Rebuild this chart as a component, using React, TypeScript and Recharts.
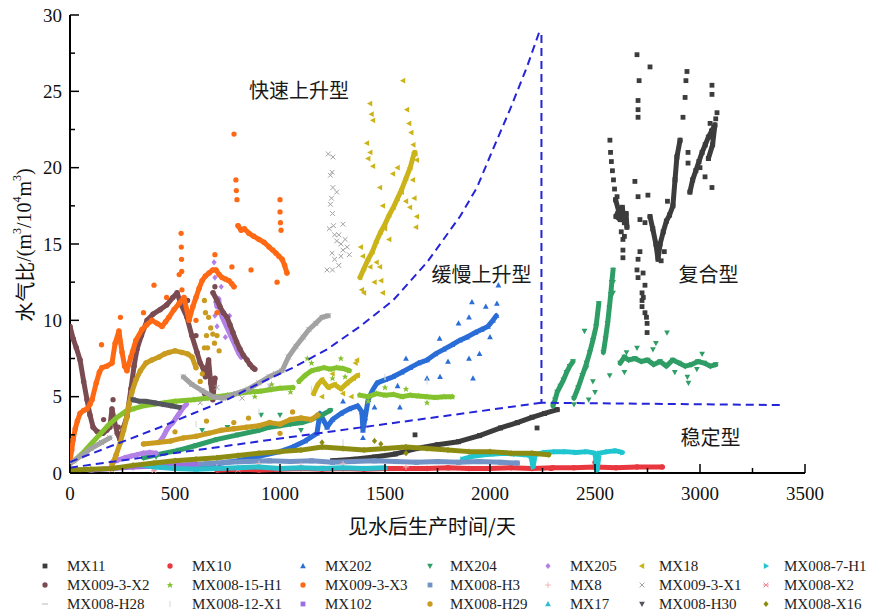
import React from "react";
import { ScatterChart, Scatter, XAxis, YAxis, ReferenceDot } from "recharts";

type P = [number, number];

// ---- data (x: days after water breakthrough, y: water-gas ratio) ----
const xTicks = [0, 250, 500, 750, 1000, 1250, 1500, 1750, 2000, 2250, 2500, 2750, 3000, 3250, 3500];
const yTicks = [0, 2.5, 5, 7.5, 10, 12.5, 15, 17.5, 20, 22.5, 25, 27.5, 30];

const mx11Trace: P[] = [[1250,0.8],[1350,0.9],[1450,1.05],[1550,1.25],[1650,1.6],[1750,1.85],[1850,2.05],[1950,2.45],[2050,2.95],[2130,3.3],[2200,3.65],[2260,3.9],[2320,4.15]];
const mx11TraceB: P[] = [[2598,17.9],[2612,17.2],[2600,16.8],[2620,16.6],[2630,17.4],[2640,16.4],[2648,17.0],[2652,16.1]];
const mx11TraceC: P[] = [[2762,16.8],[2775,16.0],[2790,15.0],[2800,14.0],[2810,15.0],[2825,15.8],[2840,16.5],[2855,16.9],[2871,17.5],[2881,19.2],[2890,20.7],[2905,21.8]];
const mx11TraceD: P[] = [[2952,18.4],[2965,19.2],[2980,19.8],[2995,20.4],[3010,21.0],[3025,21.5],[3040,22.0],[3055,22.4],[3071,22.8],[3060,21.5],[3040,20.6]];
const mx11Pts: P[] = [[1643,2.5],[2224,2.95],
  [2571,21.8],[2574,21.0],[2578,20.4],[2583,19.8],[2588,19.2],[2593,18.6],[2605,18.1],[2633,15.3],[2633,14.6],[2633,14.1],[2625,15.8],[2640,15.5],
  [2700,27.4],[2762,26.6],[2710,25.7],[2705,24.4],[2705,23.8],[2705,23.3],[2690,19.1],[2705,18.1],[2752,18.2],[2714,16.6],[2738,16.4],[2714,14.5],[2705,14.0],[2700,13.3],[2705,12.8],[2729,13.1],[2738,12.3],[2724,11.8],[2724,11.3],[2724,10.9],[2738,10.5],[2748,9.8],[2748,9.2],[2745,10.2],[2730,11.5],
  [2919,23.3],[2929,24.6],[2933,25.7],[2938,26.3],[2943,21.0],[2943,20.3],[2845,17.8],[2830,14.5],[2815,13.9],
  [3057,25.4],[3057,24.8],[3081,23.6],[3057,18.7],[3024,19.4],[3000,20.0],[3075,23.2],[3048,22.9]];

const mx10Trace: P[] = [[700,0.2],[800,0.25],[900,0.2],[1000,0.25],[1100,0.3],[1200,0.25],[1300,0.3],[1400,0.25],[1500,0.3],[1600,0.3],[1700,0.3],[1800,0.35],[1900,0.3],[2000,0.3],[2100,0.35],[2200,0.3],[2300,0.35],[2400,0.35],[2500,0.4],[2600,0.35],[2700,0.4],[2820,0.4]];
const mx10Pts: P[] = [[2500,0.7],[2290,0.3]];

const mx202Trace: P[] = [[500,0.3],[600,0.45],[700,0.6],[800,0.8],[900,1.1],[1000,1.4],[1060,1.7],[1120,2.1],[1176,2.6],[1190,3.9],[1210,3.4],[1224,3.0],[1250,3.5],[1290,3.9],[1330,4.2],[1370,4.4],[1390,4.0],[1395,2.8],[1405,3.6],[1420,4.8],[1440,5.4],[1462,5.9],[1500,6.1],[1538,6.3],[1580,6.6],[1620,6.9],[1660,7.2],[1700,7.4],[1740,7.8],[1780,8.1],[1820,8.4],[1857,8.7],[1890,8.9],[1930,9.2],[1960,9.4],[1990,9.6],[2014,10.0],[2030,10.3]];
const mx202Pts: P[] = [[1914,11.2],[2033,11.1],[2040,12.3],[1700,6.2],[1800,7.3],[1900,7.5],[1950,7.8],[1600,7.5],[1850,9.8],[1980,10.9],[1450,4.3],[1395,2.3],[1560,5.7],[1760,8.8],[2000,8.9],[1300,4.7],[1900,10.2],[1762,6.3],[1919,6.2],[1571,4.3]];

const mx204TraceA: P[] = [[350,1.0],[450,1.3],[520,1.5],[600,1.8],[700,2.2],[800,2.5],[900,2.8],[950,3.0],[1000,3.1],[1050,3.2],[1105,3.3],[1150,3.5],[1200,3.8],[1240,4.1]];
const mx204TraceB: P[] = [[2300,4.4],[2310,4.8],[2320,5.3],[2335,5.7],[2350,6.1],[2365,6.6],[2380,7.0],[2395,7.3]];
const mx204TraceC: P[] = [[2400,4.9],[2420,5.6],[2440,6.4],[2460,7.2],[2475,7.9],[2490,8.7],[2505,9.6],[2518,11.1]];
const mx204TraceD: P[] = [[2540,7.9],[2550,8.8],[2560,9.8],[2568,10.8],[2575,11.7],[2580,12.5],[2586,13.3]];
const mx204TraceE: P[] = [[2620,7.2],[2640,7.6],[2660,7.4],[2690,7.5],[2720,7.3],[2750,7.4],[2780,7.1],[2810,7.3],[2840,7.0],[2870,7.4],[2900,7.2],[2930,7.0],[2960,7.1],[2990,7.3],[3020,7.2],[3050,7.0],[3075,7.1]];
const mx204Pts: P[] = [[750,3.0],[650,2.6],[1000,3.8],[1100,2.8],[629,2.8],[910,3.8],[410,1.05],
  [2640,6.6],[2650,7.9],[2700,8.2],[2790,8.5],[2940,6.3],[2945,5.9],[2880,6.6],[2985,6.8],[3010,7.8],[2570,6.4],[2500,5.3],[2470,4.8],[2400,4.5],[2450,9.3],[2460,6.9],[2490,6.0],[2843,9.2],[2776,8.1],[2586,12.5],[2586,11.8]];

const mx205Trace: P[] = [[200,0.7],[230,0.85],[260,1.0],[290,1.1],[320,1.2],[350,1.3],[380,1.35],[410,1.3]];
const mx205TraceB: P[] = [[430,2.1],[445,2.4],[460,2.8],[475,3.1],[490,3.3],[505,3.6],[520,3.9],[540,4.3],[555,4.5]];
const mx205TraceC: P[] = [[695,11.2],[700,10.9],[708,11.4],[715,10.6],[725,10.2],[735,9.9],[745,9.6],[755,9.3],[765,9.0],[775,8.7],[785,8.4],[795,8.1],[805,7.8],[815,7.6]];
const mx205Pts: P[] = [[686,13.8],[690,12.8],[692,11.6],[700,9.6],[690,10.3],[760,10.3],[720,12.2],[740,8.9]];

const mx18Trace: P[] = [[1160,5.2],[1180,5.8],[1200,6.1],[1230,5.6],[1260,5.8],[1290,5.5],[1320,5.9],[1350,6.2],[1370,6.4]];
const mx18TraceB: P[] = [[1381,12.8],[1400,13.4],[1420,14.0],[1440,14.5],[1460,15.2],[1480,15.8],[1500,16.3],[1520,16.9],[1540,17.4],[1560,18.0],[1580,18.6],[1600,19.3],[1620,20.0],[1640,21.0]];
const mx18Pts: P[] = [[1367,7.4],[1360,7.2],[1200,5.0],[1250,6.5],[1300,5.2],[1340,5.0],
  [1385,14.8],[1390,12.0],[1400,11.8],[1430,13.5],[1450,12.5],[1414,21.6],[1420,20.6],[1430,21.0],[1443,20.1],[1429,24.2],[1436,23.5],[1443,23.1],[1476,18.7],[1490,17.5],[1500,16.0],[1520,15.3],[1538,19.6],[1560,20.0],[1580,18.4],[1600,17.8],[1619,17.4],[1586,25.7],[1605,23.8],[1615,22.9],[1625,22.3],[1635,21.5],[1645,20.9],[1652,20.5],[1633,19.2],[1640,18.0],[1652,16.8],[1648,16.1],[1476,13.5],[1482,12.6],[1490,11.8],[1395,14.2],[1460,13.8]];

const mx0087h1Trace: P[] = [[1870,0.9],[1920,1.1],[1970,1.2],[2020,1.25],[2070,1.3],[2120,1.25],[2170,1.2],[2195,1.1],[2205,0.4],[2215,1.2],[2260,1.35],[2310,1.4],[2360,1.4],[2410,1.35],[2460,1.4],[2500,1.3],[2510,0.2],[2520,1.3],[2560,1.4],[2600,1.45],[2630,1.35]];

const mx0093x2Trace: P[] = [[0,9.6],[15,8.8],[30,8.2],[48,7.4],[65,6.0],[81,4.8],[95,3.8],[110,3.0],[130,2.7],[157,2.6],[175,2.8],[190,3.0],[200,4.2],[210,3.5],[225,2.6],[238,2.2],[255,3.0],[271,3.7],[290,5.5],[305,7.0],[319,8.1],[340,9.0],[367,10.0],[395,10.4],[429,10.7],[460,11.0],[490,11.5],[510,11.8],[530,11.0],[557,10.2],[580,9.0],[605,7.9],[620,7.2],[633,6.9],[645,6.3],[660,7.4],[670,5.9],[680,4.8],[690,6.2]];
const mx0093x2TraceB: P[] = [[681,11.8],[700,11.3],[714,10.9],[730,10.5],[748,10.2],[762,9.7],[776,9.2],[793,8.6],[810,8.1],[826,7.7],[843,7.4],[857,7.1],[871,6.9],[880,6.8]];
const mx0093x2Pts: P[] = [[205,4.8],[160,3.5],[230,3.0],[280,4.5],[560,11.3],[600,9.0],[690,12.2],[640,5.2]];

const mx00815h1Trace: P[] = [[20,0.8],[60,1.3],[100,1.9],[140,2.5],[180,3.1],[220,3.6],[260,4.0],[300,4.2],[350,4.4],[400,4.5],[450,4.6],[500,4.7],[586,4.8],[650,4.9],[700,5.0],[750,5.1],[800,5.2],[850,5.3],[905,5.35],[950,5.45],[1000,5.55],[1062,5.6]];
const mx00815h1TraceB: P[] = [[1090,6.0],[1120,6.4],[1150,6.7],[1180,6.8],[1210,6.9],[1240,6.8],[1270,6.9],[1300,6.85],[1330,6.7]];
const mx00815h1TraceC: P[] = [[1380,5.1],[1420,5.0],[1460,5.2],[1500,5.1],[1540,5.15],[1580,5.0],[1620,5.1],[1660,5.05],[1700,5.0],[1740,4.95],[1780,5.0],[1820,5.0]];
const mx00815h1Pts: P[] = [[1130,7.5],[1150,7.2],[1290,7.5],[1250,6.2],[1310,6.3],[1500,5.6],[1600,5.5],[1700,4.6],[1420,4.7],[960,5.8],[880,5.0],[1050,5.3]];

const mx0093x3Trace: P[] = [[0,0.8],[8,1.5],[15,2.2],[25,2.9],[35,3.4],[48,3.9],[65,4.1],[81,4.2],[95,4.5],[105,4.8],[125,5.9],[140,6.6],[152,6.9],[175,7.0],[200,7.2],[215,8.5],[233,9.3],[248,7.9],[260,7.0],[271,6.7],[290,7.6],[314,8.7],[343,9.4],[365,9.7],[390,10.0],[415,9.8],[438,9.6],[455,9.9],[471,10.2],[495,10.7],[519,11.1],[543,11.5],[567,10.0],[585,10.9],[600,11.5],[615,12.1],[629,12.6],[645,12.9],[662,13.1],[680,13.3],[695,13.3],[710,13.0],[724,12.8],[740,12.7],[757,12.6],[770,12.4],[781,12.2]];
const mx0093x3TraceB: P[] = [[800,16.2],[815,15.9],[830,16.0],[852,15.7],[875,15.5],[900,15.3],[925,15.1],[948,14.8],[965,14.6],[981,14.4],[995,14.2],[1010,14.0],[1022,13.6],[1033,13.1]];
const mx0093x3Pts: P[] = [[781,22.2],[790,19.2],[792,18.5],[795,17.9],[1000,17.9],[1000,17.1],[1002,16.4],[1005,15.9],[529,15.7],[530,14.8],[531,14.0],[532,13.2],[533,12.0],[400,12.3],[862,13.3],[771,13.5],[986,12.5],[300,8.0],[350,10.5],[600,10.0],[700,10.5],[240,10.2],[460,11.5],[690,14.3],[520,13.0],[150,8.4]];

const mx008h3Trace: P[] = [[550,0.5],[650,0.6],[750,0.7],[850,0.75],[950,0.8],[1050,0.75],[1150,0.8],[1250,0.7],[1350,0.75],[1450,0.8],[1550,0.75],[1650,0.7],[1750,0.75],[1850,0.7],[1950,0.75],[2050,0.7],[2130,0.65]];
const mx8Pts: P[] = [[300,0.3],[500,0.5],[700,0.4],[900,0.6],[1100,0.5],[1300,0.6],[1600,0.4]];

const mx0093x1Trace: P[] = [[0,0.6],[50,1.1],[100,1.6],[150,2.0],[190,2.3]];
const mx0093x1TraceB: P[] = [[540,6.3],[580,5.8],[629,5.4],[680,5.0],[730,4.9],[790,5.2],[850,5.5],[900,5.9],[948,6.3],[980,6.5],[1010,6.7],[1040,7.6],[1076,8.3],[1110,8.9],[1138,9.4],[1170,9.8],[1200,10.2],[1230,10.3]];
const mx0093x1Pts: P[] = [[1230,20.9],[1240,19.5],[1245,18.0],[1250,17.0],[1255,16.2],[1260,15.6],[1270,15.2],[1280,15.6],[1290,15.0],[1300,14.6],[1310,15.3],[1320,14.8],[1330,14.3],[1240,17.6],[1260,14.0],[1250,13.3],[1270,18.4],[1280,13.6],[1300,16.3],[1235,16.0],[1290,14.2],[1252,20.7],[1248,19.7],[1252,18.7],[1224,13.3],[1248,14.4],[620,4.6],[700,5.6],[820,4.9],[950,5.7]];

const mx008x2Pts: P[] = [[200,0.2],[400,0.15],[600,0.3],[800,0.2]];
const mx008h28Pts: P[] = [[300,0.4],[600,0.6],[900,0.5],[1200,0.45]];
const mx00812x1Pts: P[] = [[600,3.2],[900,4.0],[1150,5.5],[1500,6.3],[1700,6.0],[1300,2.0]];
const mx102Trace: P[] = [[100,0.2],[200,0.3],[300,0.4],[400,0.45],[500,0.5],[600,0.55]];

const mx008h29Trace: P[] = [[200,0.5],[220,1.2],[240,2.0],[255,2.8],[270,3.6],[281,4.5],[295,5.3],[314,6.1],[335,6.7],[362,7.2],[390,7.4],[424,7.6],[450,7.8],[471,7.9],[500,8.0],[533,7.9],[560,7.8],[581,7.6],[600,6.9]];
const mx008h29TraceB: P[] = [[350,1.9],[420,2.0],[480,2.1],[540,2.3],[600,2.4],[660,2.6],[720,2.8],[780,2.9],[840,3.0],[900,3.1],[950,3.3],[1000,3.2],[1050,3.5],[1100,3.6],[1150,3.5],[1180,3.8]];
const mx008h29Pts: P[] = [[630,6.5],[640,11.3],[645,10.5],[650,9.0],[655,8.2],[660,10.2],[670,9.5],[680,9.1],[688,8.5],[700,9.0],[640,8.2],[620,6.0],[710,8.0],[500,2.7],[650,3.4],[850,3.6],[1000,2.6],[1060,4.0],[780,3.3]];

const mx17Trace: P[] = [[350,0.5],[400,0.4],[450,0.35],[500,0.3],[600,0.25],[700,0.3],[800,0.35],[900,0.4],[1000,0.3],[1100,0.35],[1200,0.3],[1300,0.35],[1400,0.3],[1500,0.35]];
const mx008h30Trace: P[] = [[300,4.8],[330,4.7],[360,4.7],[400,4.6],[440,4.5],[480,4.4],[520,4.3]];

const mx008x16Trace: P[] = [[0,0.2],[100,0.25],[200,0.3],[300,0.5],[400,0.65],[500,0.8],[600,0.9],[700,1.0],[800,1.15],[900,1.3],[1000,1.4],[1100,1.5],[1200,1.7],[1300,1.6],[1400,1.5],[1500,1.6],[1600,1.7],[1700,1.6],[1800,1.5],[1900,1.4],[2000,1.4],[2100,1.3],[2200,1.3],[2280,1.2]];
const mx008x16Pts: P[] = [[1450,2.1],[1480,1.9],[1200,2.0],[1600,1.3]];

// boundary lines
const upperBound: P[] = [[0,0.72],[110,1.31],[271,2.16],[429,3.0],[586,3.9],[748,4.8],[905,5.9],[1062,6.9],[1224,8.1],[1381,9.6],[1538,11.3],[1700,13.8],[1857,16.8],[1938,18.7],[2014,21.2],[2095,23.8],[2176,26.6],[2235,28.9],[2245,28.7],[2245,4.6],[3395,4.45]];
const lowerBound: P[] = [[0,0.35],[1100,2.45],[2245,4.6]];

type Kind = "square"|"circle"|"up"|"down"|"left"|"right"|"diamond"|"star"|"plus"|"cross"|"asterisk"|"hline"|"vline";

interface SeriesDef { name: string; color: string; kind: Kind; traces: P[][]; points: P[]; }

const SERIES: SeriesDef[] = [
  { name: "MX11", color: "#3c3c3c", kind: "square", traces: [mx11Trace, mx11TraceB, mx11TraceC, mx11TraceD], points: mx11Pts },
  { name: "MX10", color: "#e8373f", kind: "circle", traces: [mx10Trace], points: mx10Pts },
  { name: "MX202", color: "#2a6dd6", kind: "up", traces: [mx202Trace], points: mx202Pts },
  { name: "MX204", color: "#2f9d66", kind: "down", traces: [mx204TraceA, mx204TraceB, mx204TraceC, mx204TraceD, mx204TraceE], points: mx204Pts },
  { name: "MX205", color: "#b381e6", kind: "diamond", traces: [mx205Trace, mx205TraceB, mx205TraceC], points: mx205Pts },
  { name: "MX18", color: "#cbb41a", kind: "left", traces: [mx18Trace, mx18TraceB], points: mx18Pts },
  { name: "MX008-7-H1", color: "#20c6cf", kind: "right", traces: [mx0087h1Trace], points: [] },
  { name: "MX009-3-X2", color: "#7b4b52", kind: "circle", traces: [mx0093x2Trace, mx0093x2TraceB], points: mx0093x2Pts },
  { name: "MX008-15-H1", color: "#84c22e", kind: "star", traces: [mx00815h1Trace, mx00815h1TraceB, mx00815h1TraceC], points: mx00815h1Pts },
  { name: "MX009-3-X3", color: "#ff6914", kind: "circle", traces: [mx0093x3Trace, mx0093x3TraceB], points: mx0093x3Pts },
  { name: "MX008-H3", color: "#7393c6", kind: "square", traces: [mx008h3Trace], points: [] },
  { name: "MX8", color: "#f0b8b8", kind: "plus", traces: [], points: mx8Pts },
  { name: "MX009-3-X1", color: "#a2a2a2", kind: "cross", traces: [mx0093x1Trace, mx0093x1TraceB], points: mx0093x1Pts },
  { name: "MX008-X2", color: "#f08c96", kind: "asterisk", traces: [], points: mx008x2Pts },
  { name: "MX008-H28", color: "#c4c4c4", kind: "hline", traces: [], points: mx008h28Pts },
  { name: "MX008-12-X1", color: "#dcdcdc", kind: "vline", traces: [], points: mx00812x1Pts },
  { name: "MX102", color: "#9b6fe2", kind: "square", traces: [mx102Trace], points: [] },
  { name: "MX008-H29", color: "#c99c20", kind: "circle", traces: [mx008h29Trace, mx008h29TraceB], points: mx008h29Pts },
  { name: "MX17", color: "#2bbfcc", kind: "up", traces: [mx17Trace], points: [] },
  { name: "MX008-H30", color: "#55555e", kind: "down", traces: [mx008h30Trace], points: [] },
  { name: "MX008-X16", color: "#8c8c12", kind: "diamond", traces: [mx008x16Trace], points: mx008x16Pts },
];

const toPts = (a: P[]) => a.map(([x, y]) => ({ x, y }));

function Marker({ cx, cy, kind, color, s }: { cx: number; cy: number; kind: Kind; color: string; s: number }) {
  if (cx == null || cy == null) return <g />;
  switch (kind) {
    case "square":
      return <rect x={cx - s} y={cy - s} width={2 * s} height={2 * s} fill={color} />;
    case "circle":
      return <circle cx={cx} cy={cy} r={s * 1.1} fill={color} />;
    case "up":
      return <polygon points={`${cx},${cy - s * 1.3} ${cx - s * 1.2},${cy + s * 0.9} ${cx + s * 1.2},${cy + s * 0.9}`} fill={color} />;
    case "down":
      return <polygon points={`${cx},${cy + s * 1.3} ${cx - s * 1.2},${cy - s * 0.9} ${cx + s * 1.2},${cy - s * 0.9}`} fill={color} />;
    case "left":
      return <polygon points={`${cx - s * 1.3},${cy} ${cx + s * 0.9},${cy - s * 1.2} ${cx + s * 0.9},${cy + s * 1.2}`} fill={color} />;
    case "right":
      return <polygon points={`${cx + s * 1.3},${cy} ${cx - s * 0.9},${cy - s * 1.2} ${cx - s * 0.9},${cy + s * 1.2}`} fill={color} />;
    case "diamond":
      return <polygon points={`${cx},${cy - s * 1.3} ${cx + s * 1.1},${cy} ${cx},${cy + s * 1.3} ${cx - s * 1.1},${cy}`} fill={color} />;
    case "star":
      return <polygon points={`${cx},${cy - s * 1.4} ${cx + s * 0.4},${cy - s * 0.4} ${cx + s * 1.3},${cy - s * 0.4} ${cx + s * 0.6},${cy + s * 0.2} ${cx + s * 0.9},${cy + s * 1.2} ${cx},${cy + s * 0.6} ${cx - s * 0.9},${cy + s * 1.2} ${cx - s * 0.6},${cy + s * 0.2} ${cx - s * 1.3},${cy - s * 0.4} ${cx - s * 0.4},${cy - s * 0.4}`} fill={color} />;
    case "plus":
      return <path d={`M${cx - s * 1.2},${cy}H${cx + s * 1.2}M${cx},${cy - s * 1.2}V${cy + s * 1.2}`} stroke={color} strokeWidth={1} />;
    case "cross":
      return <path d={`M${cx - s},${cy - s}L${cx + s},${cy + s}M${cx - s},${cy + s}L${cx + s},${cy - s}`} stroke={color} strokeWidth={1} />;
    case "asterisk":
      return <path d={`M${cx - s},${cy - s}L${cx + s},${cy + s}M${cx - s},${cy + s}L${cx + s},${cy - s}M${cx - s * 1.2},${cy}H${cx + s * 1.2}`} stroke={color} strokeWidth={1} />;
    case "hline":
      return <path d={`M${cx - s * 1.3},${cy}H${cx + s * 1.3}`} stroke={color} strokeWidth={1.2} />;
    case "vline":
      return <path d={`M${cx},${cy - s * 1.3}V${cy + s * 1.3}`} stroke={color} strokeWidth={1.2} />;
  }
  return <g />;
}

const XTick = (props: any) => {
  const { x, y, payload } = props;
  const major = payload.value % 500 === 0;
  return (
    <g>
      <line x1={x} y1={y} x2={x} y2={y - (major ? 9 : 5)} stroke="#000" strokeWidth={1.5} />
      {major && (
        <text x={x} y={y + 27} textAnchor="middle" fontFamily="Liberation Serif" fontSize={19} fill="#111">
          {payload.value}
        </text>
      )}
    </g>
  );
};

const YTick = (props: any) => {
  const { x, y, payload } = props;
  const major = payload.value % 5 === 0;
  return (
    <g>
      <line x1={x} y1={y} x2={x + (major ? 9 : 5)} y2={y} stroke="#000" strokeWidth={1.5} />
      {major && (
        <text x={x - 8} y={y} dy="0.35em" textAnchor="end" fontFamily="Liberation Serif" fontSize={19} fill="#111">
          {payload.value}
        </text>
      )}
    </g>
  );
};

const notes = [
  { text: "快速上升型", x: 1090, y: 25.0 },
  { text: "缓慢上升型", x: 1960, y: 13.0 },
  { text: "复合型", x: 3040, y: 13.0 },
  { text: "稳定型", x: 3050, y: 2.3 },
];

const legendMarkX = [45, 170, 303, 430, 548, 642, 766];
const legendTextX = [67, 192, 325, 450, 570, 659, 784];
const legendRowY = [566, 585, 604];

export default function App() {
  const cjk = "'Noto Sans CJK SC', sans-serif";
  return (
    <div style={{ position: "absolute", left: 0, top: 0, width: 869, height: 614, background: "#fff" }}>
      <ScatterChart width={869} height={614} margin={{ top: 15, right: 64, bottom: 111, left: 20 }}>
        <XAxis
          dataKey="x"
          type="number"
          domain={[0, 3500]}
          ticks={xTicks}
          interval={0}
          tickSize={0}
          tickMargin={0}
          tickLine={false}
          tick={<XTick />}
          height={30}
          axisLine={{ stroke: "#000", strokeWidth: 2 }}
          allowDataOverflow
        />
        <YAxis
          dataKey="y"
          type="number"
          domain={[0, 30]}
          ticks={yTicks}
          interval={0}
          tickSize={0}
          tickMargin={0}
          tickLine={false}
          tick={<YTick />}
          width={50}
          axisLine={{ stroke: "#000", strokeWidth: 2 }}
          allowDataOverflow
        />
        {SERIES.flatMap((s) => [
          ...s.traces.map((t, i) => (
            <Scatter
              key={`${s.name}-t${i}`}
              name={s.name}
              data={toPts(t)}
              line={{ stroke: s.color, strokeWidth: 5, strokeLinejoin: "round", strokeLinecap: "round" }}
              lineType="joint"
              shape={(p: any) => <Marker cx={p.cx} cy={p.cy} kind={s.kind} color={s.color} s={2.5} />}
              isAnimationActive={false}
            />
          )),
          s.points.length ? (
            <Scatter
              key={`${s.name}-p`}
              name={s.name}
              data={toPts(s.points)}
              shape={(p: any) => <Marker cx={p.cx} cy={p.cy} kind={s.kind} color={s.color} s={2.4} />}
              isAnimationActive={false}
            />
          ) : null,
        ])}
        <Scatter
          data={toPts(upperBound)}
          line={{ stroke: "#2424d8", strokeWidth: 2, strokeDasharray: "8 5" }}
          lineType="joint"
          shape={() => <g />}
          isAnimationActive={false}
        />
        <Scatter
          data={toPts(lowerBound)}
          line={{ stroke: "#2424d8", strokeWidth: 2, strokeDasharray: "8 5" }}
          lineType="joint"
          shape={() => <g />}
          isAnimationActive={false}
        />
        {notes.map((n) => (
          <ReferenceDot
            key={n.text}
            x={n.x}
            y={n.y}
            r={0}
            stroke="none"
            fill="none"
            label={{ value: n.text, position: "center", fontSize: 20, fill: "#1a1a1a", fontFamily: cjk }}
          />
        ))}
      </ScatterChart>
      <svg width={869} height={614} style={{ position: "absolute", left: 0, top: 0, pointerEvents: "none" }}>
        <text x={432} y={534} textAnchor="middle" fontSize={20} fontFamily={cjk} fill="#111">
          见水后生产时间/天
        </text>
        <text
          x={24}
          y={245}
          transform="rotate(-90 24 245)"
          textAnchor="middle"
          dominantBaseline="central"
          fontSize={20}
          fill="#111"
        >
          <tspan fontFamily={cjk}>水气比</tspan>
          <tspan fontFamily="Liberation Serif">/(m</tspan>
          <tspan fontFamily="Liberation Serif" fontSize={12} dy={-7}>3</tspan>
          <tspan fontFamily="Liberation Serif" dy={7}>/10</tspan>
          <tspan fontFamily="Liberation Serif" fontSize={12} dy={-7}>4</tspan>
          <tspan fontFamily="Liberation Serif" dy={7}>m</tspan>
          <tspan fontFamily="Liberation Serif" fontSize={12} dy={-7}>3</tspan>
          <tspan fontFamily="Liberation Serif" dy={7}>)</tspan>
        </text>
        {SERIES.map((s, i) => {
          const col = i % 7;
          const row = Math.floor(i / 7);
          const y = legendRowY[row];
          return (
            <g key={s.name}>
              <Marker cx={legendMarkX[col]} cy={y} kind={s.kind} color={s.color} s={2.4} />
              <text x={legendTextX[col]} y={y} dy="0.35em" fontFamily="Liberation Serif" fontSize={15} fill="#222">
                {s.name}
              </text>
            </g>
          );
        })}
      </svg>
    </div>
  );
}
